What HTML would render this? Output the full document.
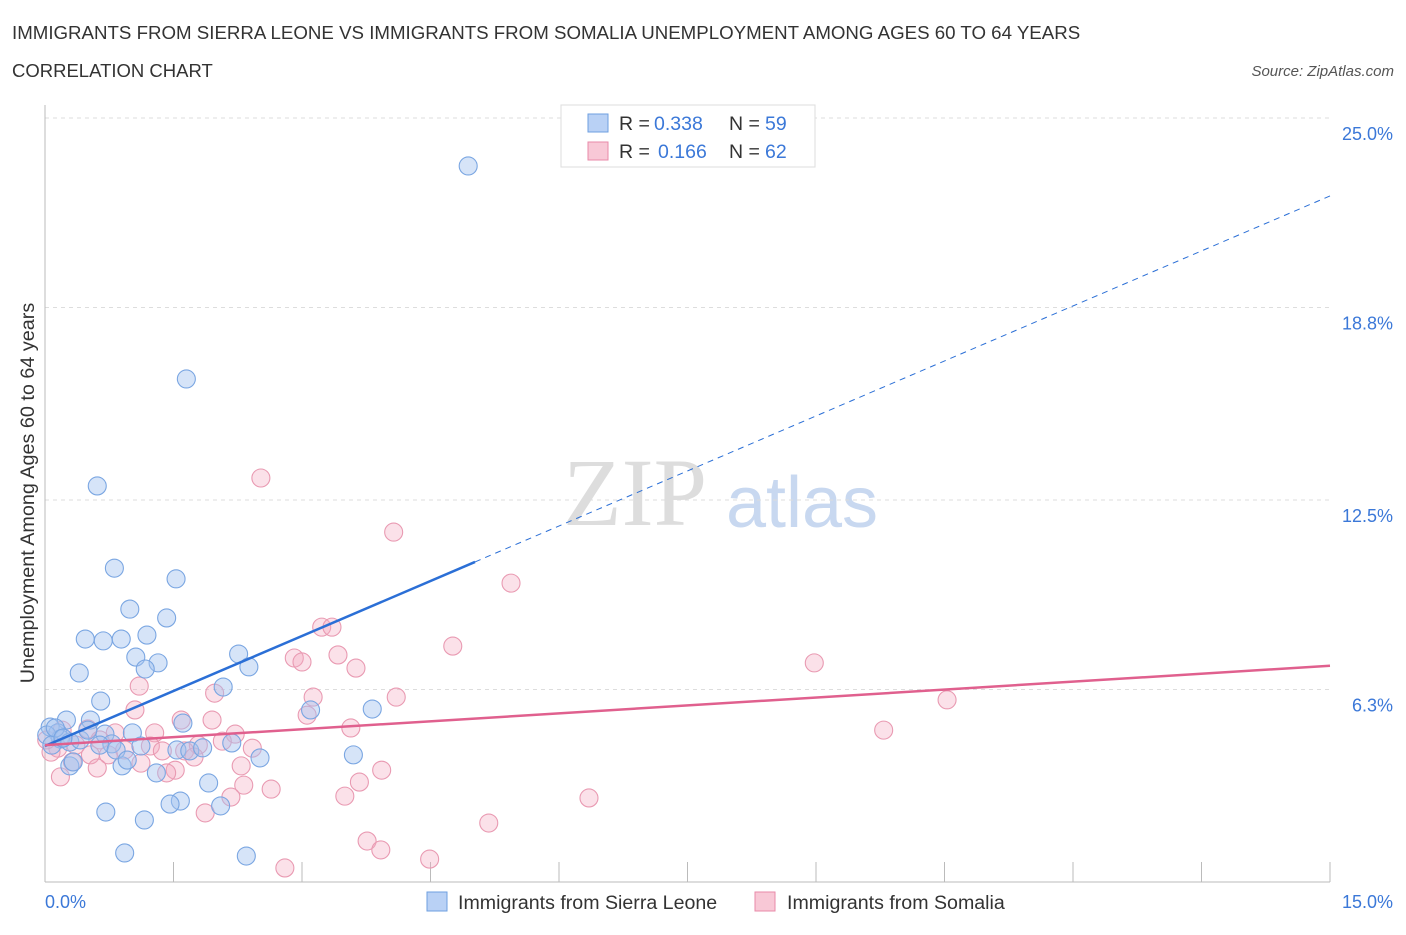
<!DOCTYPE html>
<html><head><meta charset="utf-8"><style>
body{margin:0;background:#fff;font-family:"Liberation Sans",sans-serif;}
</style></head><body>
<svg width="1406" height="930" xmlns="http://www.w3.org/2000/svg" font-family="Liberation Sans, sans-serif">
<text x="12" y="39" font-size="18.7" fill="#333">IMMIGRANTS FROM SIERRA LEONE VS IMMIGRANTS FROM SOMALIA UNEMPLOYMENT AMONG AGES 60 TO 64 YEARS</text>
<text x="12" y="77" font-size="18.5" fill="#333">CORRELATION CHART</text>
<text x="1394" y="76" font-size="15" fill="#555" font-style="italic" text-anchor="end">Source: ZipAtlas.com</text>
<text x="635" y="525" font-size="96" fill="#ddd" text-anchor="middle" font-family="Liberation Serif, serif">ZIP</text>
<text x="802" y="527" font-size="72" fill="#c8d8f0" text-anchor="middle">atlas</text>
<g id="grid"></g>
<g id="axes"></g>
<g id="pts"></g>
<g id="lines"></g>
<text transform="translate(34,493) rotate(-90)" font-size="19.8" fill="#333" text-anchor="middle">Unemployment Among Ages 60 to 64 years</text>
<text x="45" y="908" font-size="18" fill="#3b78d8">0.0%</text>
<text x="1393" y="908" font-size="18" fill="#3b78d8" text-anchor="end">15.0%</text>
<g>
<rect x="561" y="105" width="254" height="62" fill="#fff" stroke="#ddd"/>
<rect x="588" y="114" width="20" height="18" fill="#b9d1f5" stroke="#6e9fe0"/>
<text x="619" y="130" font-size="19.5" fill="#333">R =</text>
<text x="654" y="130" font-size="19.5" fill="#3b78d8">0.338</text>
<text x="729" y="130" font-size="19.5" fill="#333">N =</text>
<text x="765" y="130" font-size="19.5" fill="#3b78d8">59</text>
<rect x="588" y="142" width="20" height="18" fill="#f8c8d6" stroke="#e88aa8"/>
<text x="619" y="158" font-size="19.5" fill="#333">R =</text>
<text x="658" y="158" font-size="19.5" fill="#3b78d8">0.166</text>
<text x="729" y="158" font-size="19.5" fill="#333">N =</text>
<text x="765" y="158" font-size="19.5" fill="#3b78d8">62</text>
</g>
<g>
<rect x="427" y="892" width="20" height="19" fill="#b9d1f5" stroke="#6e9fe0"/>
<text x="458" y="909" font-size="19.6" fill="#333">Immigrants from Sierra Leone</text>
<rect x="755" y="892" width="20" height="19" fill="#f8c8d6" stroke="#e88aa8"/>
<text x="787" y="909" font-size="19.6" fill="#333">Immigrants from Somalia</text>
</g>
</svg>
<script>
const yTicks=[6.3,12.5,18.8,25.0];
const yTickLabels=["6.3%","12.5%","18.8%","25.0%"];
const blueX=[4.94,1.65,0.61,0.81,1.53,0.99,1.42,0.47,0.68,0.89,1.19,1.06,1.32,1.17,0.40,2.26,2.38,2.08,0.65,3.82,3.10,1.61,0.53,0.25,0.06,0.15,0.18,0.29,0.41,0.70,1.02,0.78,1.12,1.54,1.69,2.51,3.60,0.90,0.29,0.33,1.30,1.91,1.58,1.46,2.05,0.71,1.16,0.93,2.35,0.02,0.08,0.12,0.21,0.50,0.64,0.83,0.96,1.84,2.18];
const blueY=[23.43,16.46,12.96,10.27,9.92,8.93,8.64,7.95,7.89,7.95,8.08,7.36,7.17,6.97,6.84,7.46,7.04,6.38,5.92,5.66,5.63,5.20,5.30,5.30,5.07,4.88,4.68,4.58,4.65,4.84,4.88,4.52,4.45,4.32,4.29,4.06,4.16,3.80,3.80,3.93,3.57,3.24,2.65,2.55,2.49,2.29,2.03,0.95,0.85,4.81,4.48,5.04,4.71,4.97,4.48,4.32,3.99,4.39,4.55];
const pinkX=[2.52,4.07,5.44,3.23,3.35,4.76,8.98,2.91,3.00,3.42,3.63,1.10,1.98,3.13,4.10,10.53,3.06,1.05,1.59,1.95,3.57,9.79,1.28,2.22,0.50,0.82,0.20,2.07,2.42,1.79,1.63,1.23,1.37,0.93,0.64,0.36,0.15,0.07,0.53,0.74,1.74,0.32,1.12,2.29,3.93,0.61,1.52,1.42,0.18,3.67,2.32,2.64,2.17,3.50,6.35,1.87,5.18,3.76,3.92,2.80,4.49,0.02];
const pinkY=[13.22,11.45,9.78,8.34,8.34,7.72,7.17,7.33,7.20,7.43,7.00,6.41,6.18,6.05,6.05,5.96,5.46,5.63,5.30,5.30,5.04,4.97,4.88,4.84,5.01,4.88,4.97,4.61,4.38,4.48,4.29,4.45,4.29,4.32,4.65,4.48,4.38,4.25,4.16,4.16,4.09,3.93,3.89,3.80,3.66,3.73,3.66,3.57,3.44,3.27,3.17,3.04,2.78,2.81,2.75,2.26,1.93,1.34,1.05,0.46,0.75,4.65];
const blueFit=[4.45,1.2], pinkFit=[4.48,0.173];
const NS="http://www.w3.org/2000/svg";
const X=v=>45+v/15*1285, Y=v=>882-v/25*764;
function mk(t,a,p){const e=document.createElementNS(NS,t);for(const k in a)e.setAttribute(k,a[k]);p.appendChild(e);return e;}
const grid=document.getElementById('grid'),axes=document.getElementById('axes'),pts=document.getElementById('pts'),lines=document.getElementById('lines');
yTicks.forEach((t,i)=>{
 const l=mk('line',{x1:45,x2:1330,y1:Y(t),y2:Y(t),stroke:'#ddd','stroke-dasharray':'4,4'},grid);
 
 
 const tx=mk('text',{x:1393,y:Y(t)+22,'font-size':18,fill:'#3b78d8','text-anchor':'end'},grid);
 tx.textContent=yTickLabels[i];
 
 
});
const ax=mk('line',{x1:45,x2:45,y1:105,y2:882,stroke:'#bbb'},axes);


const bx=mk('line',{x1:45,x2:1330,y1:882,y2:882,stroke:'#bbb'},axes);


for(let i=0;i<=10;i++){
 const t=mk('line',{x1:X(i*1.5),x2:X(i*1.5),y1:862,y2:882,stroke:'#bbb'},axes);
 
 
}
function dots(xs,ys,fill,stroke,name){xs.forEach((x,i)=>{
 const c=mk('circle',{cx:X(x),cy:Y(ys[i]),r:9,fill:fill,stroke:stroke,'stroke-width':1.1},pts);
 
 
});}
dots(pinkX,pinkY,'rgba(244,170,192,0.35)','#e99ab2','somalia-point');
dots(blueX,blueY,'rgba(164,196,240,0.45)','#7aa6e2','sierra-leone-point');
const b1=mk('line',{x1:X(0),y1:Y(blueFit[0]),x2:X(5.02),y2:Y(blueFit[0]+blueFit[1]*5.02),stroke:'#2b6fd6','stroke-width':2.5},lines);


const b2=mk('line',{x1:X(5.02),y1:Y(blueFit[0]+blueFit[1]*5.02),x2:X(15),y2:Y(blueFit[0]+blueFit[1]*15),stroke:'#2b6fd6','stroke-width':1,'stroke-dasharray':'6,5'},lines);


const p1=mk('line',{x1:X(0),y1:Y(pinkFit[0]),x2:X(15),y2:Y(pinkFit[0]+pinkFit[1]*15),stroke:'#e0608e','stroke-width':2.5},lines);


</script>
</body></html>
